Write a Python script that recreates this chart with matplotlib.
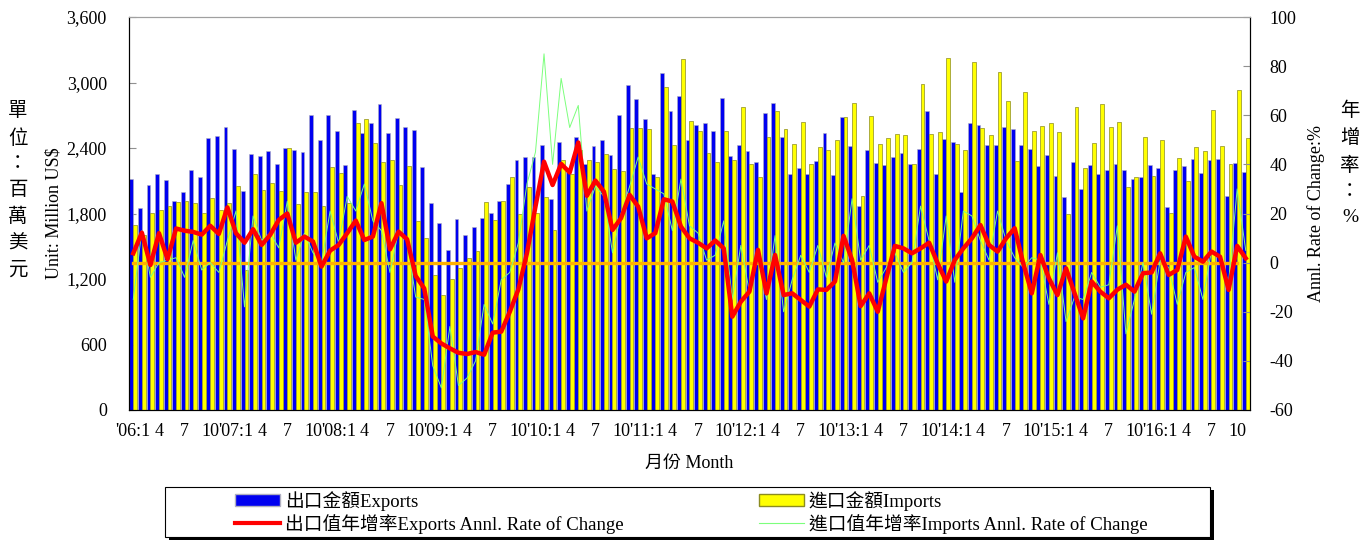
import numpy as np
import matplotlib
matplotlib.use("Agg")
import matplotlib.pyplot as plt
from matplotlib.patches import Rectangle, Patch
from matplotlib.lines import Line2D

plt.rcParams['font.family'] = ['Liberation Serif', 'Noto Sans CJK TC']

# monthly data, Jan 2006 .. Nov 2016 (million US$ / %)
exports = [2120, 1850, 2063, 2164, 2106, 1910, 1999, 2200, 2136, 2494, 2512, 2588,
           2393, 2008, 2347, 2326, 2374, 2255, 2396, 2384, 2365, 2704, 2475, 2704,
           2558, 2240, 2744, 2539, 2631, 2805, 2536, 2677, 2594, 2567, 2222, 1898,
           1717, 1470, 1751, 1601, 1672, 1760, 1806, 1919, 2072, 2292, 2313, 2319,
           2426, 1931, 2451, 2180, 2497, 2252, 2414, 2475, 2338, 2698, 2980, 2851,
           2668, 2164, 3086, 2741, 2879, 2469, 2613, 2628, 2552, 2854, 2329, 2423,
           2374, 2274, 2720, 2811, 2500, 2164, 2219, 2164, 2277, 2539, 2154, 2683,
           2420, 1873, 2384, 2264, 2246, 2313, 2353, 2249, 2393, 2741, 2161, 2478,
           2457, 1999, 2625, 2613, 2429, 2429, 2594, 2570, 2426, 2393, 2237, 2338,
           2139, 1953, 2274, 2026, 2240, 2161, 2194, 2249, 2203, 2118, 2136, 2246,
           2216, 1861, 2200, 2237, 2301, 2167, 2292, 2298, 1962, 2261, 2182]
imports = [1696, 1600, 1809, 1830, 1870, 1904, 1910, 1895, 1803, 1946, 1832, 1900,
           2052, 1283, 2161, 2017, 2081, 2008, 2399, 1886, 1996, 1996, 1867, 2225,
           2170, 1900, 2628, 2668, 2445, 2270, 2289, 2060, 2234, 1730, 1571, 1235,
           1051, 1204, 1302, 1390, 1455, 1904, 1739, 1913, 2133, 1800, 2042, 1803,
           1950, 1647, 2292, 2161, 2380, 2289, 2268, 2344, 2206, 2188, 2582, 2582,
           2573, 2133, 2958, 2426, 3215, 2646, 2555, 2353, 2271, 2555, 2289, 2775,
           2252, 2133, 2500, 2741, 2573, 2436, 2637, 2252, 2408, 2381, 2472, 2683,
           2811, 1959, 2689, 2436, 2490, 2530, 2518, 2252, 2983, 2524, 2551, 3224,
           2439, 2381, 3184, 2582, 2518, 3093, 2833, 2283, 2915, 2555, 2598, 2628,
           2542, 1794, 2775, 2216, 2442, 2805, 2588, 2637, 2042, 2130, 2500, 2145,
           2472, 1803, 2304, 2099, 2408, 2368, 2747, 2417, 2252, 2931, 2490]
exp_growth = [3.8, 12.2, -1, 12, 1.4, 13.9, 13, 12.5, 11.4, 15, 11.7, 22.5,
              12, 8.1, 13.6, 7.2, 11.3, 17.4, 20, 8.1, 10.6, 8.6, -1.6, 4.9,
              7.2, 12, 17.1, 9.2, 10.6, 24.2, 5.4, 12.6, 9.5, -5.4, -10.5, -30.1,
              -32.9, -34.9, -36.7, -37.2, -36.4, -37.5, -28.5, -28.1, -20, -10.9, 3.8, 22.8,
              41.1, 31.6, 40.2, 36.7, 48.9, 27.2, 33.4, 28.9, 13.3, 18.1, 27.6, 22.8,
              9.9, 12, 25.8, 24.9, 14.7, 9.9, 8.1, 5.8, 9, 5.8, -22, -15.9,
              -11.8, 5.2, -12.5, 3.1, -13.2, -12.5, -15.2, -17.9, -10.9, -11.1, -7.7, 10.9,
              1.1, -17.7, -12.5, -20, -6.4, 6.8, 5.8, 3.8, 5.8, 8.1, -0.3, -7.7,
              1.1, 5.8, 9.9, 15.3, 7.2, 4.5, 9.9, 14, -0.3, -12.5, 3.1, -6.4,
              -13.2, -2.3, -12.5, -22.7, -7.7, -11.8, -14.5, -11, -9, -11.8, -4.3, -4,
              3.8, -5, -3, 10.6, 2.4, 0.4, 4.5, 2.4, -11.1, 6.8, 1.8]
imp_growth = [-15, 13, -6, 0, 1, 2, -6, 9, -3, 0, -4, 9,
              21, -18, 19, 9, 12, 6, 25, 1, 12, 4, 0, 21,
              8, 27, 21, 32, 17, 13, -4, 13, 9, -14, -15, -42,
              -51, -26, -50, -47, -40, -17, -25, -7, -4, 8, 32, 45,
              85, 40, 75, 55, 64, 21, 31, 27, 4, 20, 31, 43,
              32, 30, 28, 13, 34, 15, 12, 1, 3, 17, -15, 7,
              -12, 2, -15, 11, -20, -7, 3, -4, 7, -6, 8, 0,
              26, 1, 7, -8, -2, 4, -4, 0, 23, 9, -7, 19,
              -8, 21, 19, 9, 1, 21, 9, 2, -2, 2, 1, -17,
              4, -24, -14, -15, -4, -10, -9, 15, -29, -15, 0, -21,
              1, -2, -17, -4, -2, -15, 5, 2, -8, 30, 5]

n = len(exports)
x = np.arange(n)

# tick labels every 3 months
tick_pos = list(range(0, n, 3))
tick_labels = []
for i in tick_pos:
    m = i % 12 + 1
    if m == 1:
        tick_labels.append("'%02d:1" % (6 + i // 12))
    else:
        tick_labels.append(str(m))

fig = plt.figure(figsize=(13.71, 5.40), dpi=100)
ax = fig.add_axes([129/1371, 1 - 410/540, 1121/1371, 393/540])

w = 0.45
ax.bar(x - w/2, exports, width=w, color='#0000f0', edgecolor='#b0b0c0', linewidth=0.4, zorder=2)
ax.bar(x + w/2, imports, width=w, color='#ffff00', edgecolor='#8c8c20', linewidth=0.5, zorder=2)
ax.set_xlim(-0.5, n - 0.5)
ax.set_ylim(0, 3600)
ax.set_yticks(np.arange(0, 3601, 600))
ax.set_yticklabels(['{:,}'.format(v) for v in range(0, 3601, 600)], fontsize=13)
ax.set_xticks(tick_pos)
ax.set_xticklabels(tick_labels, fontsize=13)
ax.tick_params(axis='x', length=0, pad=9)
ax.tick_params(axis='y', direction='in', length=5, color='#909090', pad=16)
ax.spines['top'].set_color('#a0a0a0')
ax.set_xlabel('月份 Month', fontsize=13, labelpad=11)
ax.set_ylabel('Unit: Million US$', fontsize=13, labelpad=3)

ax2 = ax.twinx()
ax2.set_ylim(-60, 100)
ax2.set_yticks(np.arange(-60, 101, 20))
ax2.set_yticklabels([str(v) for v in range(-60, 101, 20)], fontsize=13)
ax2.tick_params(axis='y', direction='in', length=5, color='#909090', pad=14)
ax2.spines['top'].set_color('#a0a0a0')
ax2.plot(x[:-1], np.zeros(n - 1), color='#ffb000', lw=2.4, zorder=3)
ax2.plot(x, imp_growth, color='#7cff7c', lw=0.7, zorder=4)
ax2.plot(x, exp_growth, color='#ff0000', lw=3.2, zorder=5)
ax2.set_ylabel('Annl. Rate of Change:%', fontsize=13, labelpad=8)

fig.text(18/1371, 1 - 190/540, '單\n位\n：\n百\n萬\n美\n元', fontsize=14,
         ha='center', va='center', linespacing=1.64)
fig.text(1350/1371, 1 - 164/540, '年\n增\n率\n：\n%', fontsize=14,
         ha='center', va='center', linespacing=1.66)

# legend box with shadow
fig.patches.append(Rectangle((169/1371, 0/540), 1045/1371, 50/540, transform=fig.transFigure,
                             facecolor='black', edgecolor='none', zorder=0))
fig.patches.append(Rectangle((165/1371, 3/540), 1045/1371, 50/540, transform=fig.transFigure,
                             facecolor='white', edgecolor='black', linewidth=0.8, zorder=1))
handles = [Patch(facecolor='#0000f0', edgecolor='#b0b0c0'),
           Line2D([], [], color='#ff0000', lw=3),
           Patch(facecolor='#ffff00', edgecolor='#8c8c20'),
           Line2D([], [], color='#7cff7c', lw=0.8)]
labels = ['出口金額Exports', '出口值年增率Exports Annl. Rate of Change',
          '進口金額Imports', '進口值年增率Imports Annl. Rate of Change']
fig.legend(handles, labels, loc='upper left', bbox_to_anchor=(218/1371, 1 - 474/540),
           ncol=2, frameon=False, fontsize=13.5, handlelength=2.4, handleheight=0.6,
           handletextpad=0.27, columnspacing=7.2, labelspacing=0.15)

fig.savefig('out.png', dpi=100)
